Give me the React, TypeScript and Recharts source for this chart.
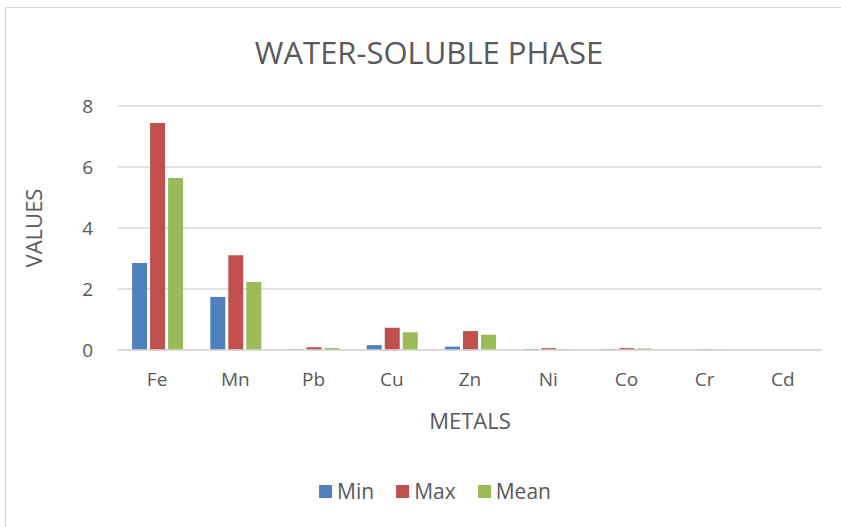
import { BarChart, Bar, XAxis, YAxis, CartesianGrid } from 'recharts'

// metal concentrations in the water-soluble phase
const metals = ['Fe', 'Mn', 'Pb', 'Cu', 'Zn', 'Ni', 'Co', 'Cr', 'Cd']
const minValues = [2.85, 1.74, 0.03, 0.16, 0.11, 0.03, 0.03, 0.005, 0.002]
const maxValues = [7.44, 3.11, 0.09, 0.73, 0.62, 0.06, 0.06, 0.02, 0.003]
const meanValues = [5.64, 2.23, 0.065, 0.58, 0.5, 0.03, 0.05, 0.02, 0.002]
const yTicks = [0, 2, 4, 6, 8]

const series = [
  { key: 'Min', color: '#4f81bd' },
  { key: 'Max', color: '#c0504d' },
  { key: 'Mean', color: '#9bbb59' },
]

const TEXT = '#595959'
const FONT = '"Open Sans", "Liberation Sans", sans-serif'

const data = metals.map((name, i) => ({
  name,
  Min: minValues[i],
  Max: maxValues[i],
  Mean: meanValues[i],
}))

export default function App() {
  return (
    <div
      style={{
        position: 'absolute',
        left: 0,
        top: 0,
        width: 841,
        height: 527,
        background: '#fff',
        overflow: 'hidden',
        fontFamily: FONT,
      }}
    >
      {/* chart area frame */}
      <div
        style={{
          position: 'absolute',
          left: 5,
          top: 7,
          width: 860,
          height: 540,
          border: '1px solid #d9d9d9',
        }}
      />
      <div
        style={{
          position: 'absolute',
          left: 429,
          top: 52,
          transform: 'translate(-50%, -50%)',
          whiteSpace: 'nowrap',
          fontSize: 31,
          color: TEXT,
        }}
      >
        WATER-SOLUBLE PHASE
      </div>
      <div
        style={{
          position: 'absolute',
          left: 33,
          top: 228,
          transform: 'translate(-50%, -50%) rotate(-90deg)',
          fontSize: 22,
          color: TEXT,
          whiteSpace: 'nowrap',
        }}
      >
        VALUES
      </div>
      <div
        style={{
          position: 'absolute',
          left: 470,
          top: 420,
          transform: 'translate(-50%, -50%)',
          fontSize: 22,
          color: TEXT,
        }}
      >
        METALS
      </div>
      <BarChart
        width={841}
        height={527}
        data={data}
        margin={{ top: 106, right: 19, bottom: 147, left: 68 }}
        barCategoryGap="18%"
        barGap={3}
        style={{ position: 'absolute', left: 0, top: 0 }}
      >
        <CartesianGrid vertical={false} stroke="#d9d9d9" strokeWidth={1.5} />
        <XAxis
          dataKey="name"
          height={30}
          axisLine={{ stroke: '#d9d9d9', strokeWidth: 1.5 }}
          tickLine={false}
          tickMargin={17}
          tick={{ fill: TEXT, fontSize: 19, fontFamily: FONT }}
        />
        <YAxis
          width={50}
          domain={[0, 8]}
          ticks={yTicks}
          axisLine={false}
          tickLine={false}
          tickMargin={19}
          tick={{ fill: TEXT, fontSize: 19, fontFamily: FONT }}
        />
        {series.map((s) => (
          <Bar key={s.key} dataKey={s.key} fill={s.color} isAnimationActive={false} />
        ))}
      </BarChart>
      {/* legend */}
      <div
        style={{
          position: 'absolute',
          left: 435,
          top: 491,
          transform: 'translate(-50%, -50%)',
          display: 'flex',
          alignItems: 'center',
          gap: 22,
          whiteSpace: 'nowrap',
          fontSize: 21,
          color: TEXT,
        }}
      >
        {series.map((s) => (
          <div key={s.key} style={{ display: 'flex', alignItems: 'center', gap: 5 }}>
            <span style={{ width: 13, height: 13, background: s.color, display: 'inline-block' }} />
            <span>{s.key}</span>
          </div>
        ))}
      </div>
    </div>
  )
}
